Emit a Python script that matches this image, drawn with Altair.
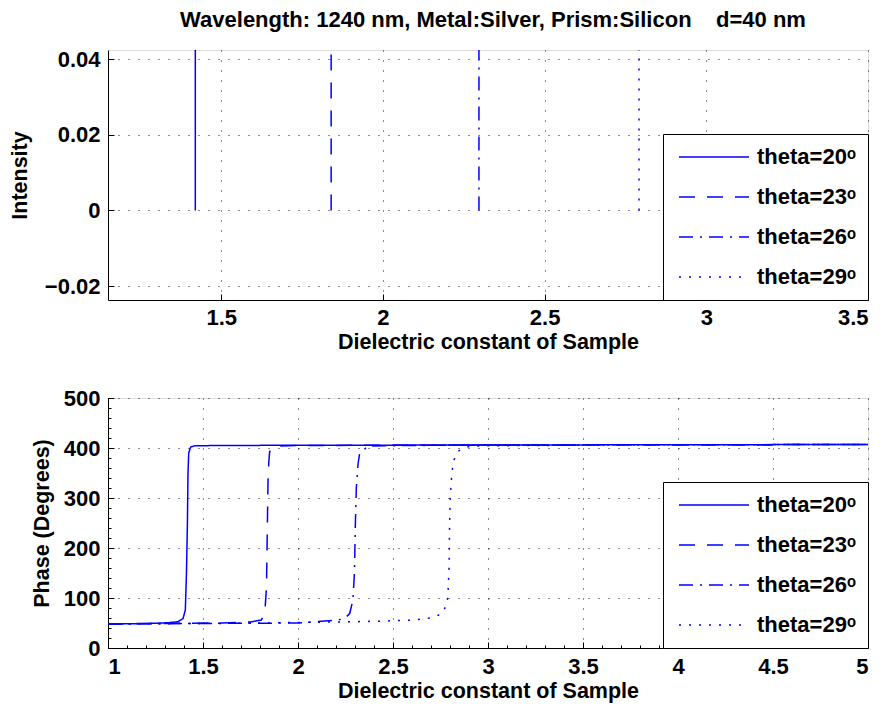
import altair as alt
import pandas as pd

BLUE = "#0000ff"
FONT = "Liberation Sans"

labels = ["theta=20ᵒ", "theta=23ᵒ", "theta=26ᵒ", "theta=29ᵒ"]
dashes = [[1, 0], [16, 12], [14, 7, 2, 7], [2, 8]]

# Top panel: resonance positions (intensity spikes, clipped at the top)
peak_x = [1.420, 1.840, 2.297, 2.792]
peak_low = [0.0, 0.0, 0.0, 0.0]
peak_high = [0.05, 0.05, 0.05, 0.05]

# Bottom panel: phase curves
x20 = [1.0, 1.2, 1.316, 1.368, 1.395, 1.407, 1.413, 1.418, 1.421, 1.425, 1.435, 1.456, 1.6, 2.0, 3.0, 4.0, 5.0]
y20 = [48, 49, 50.5, 52.5, 59, 76, 150, 250, 350, 390, 402, 404.5, 405, 405.5, 406, 406.5, 407]
x23 = [1.0, 1.3, 1.6, 1.75, 1.807, 1.825, 1.834, 1.839, 1.842, 1.846, 1.851, 1.877, 2.0, 2.5, 3.0, 4.0, 5.0]
y23 = [48, 49, 50, 52, 56, 70, 120, 250, 330, 370, 393, 404, 405, 405.5, 406, 406.5, 407]
x26 = [1.0, 1.5, 2.0, 2.211, 2.246, 2.272, 2.289, 2.297, 2.302, 2.307, 2.316, 2.324, 2.368, 2.6, 3.0, 4.0, 5.0]
y26 = [48, 49, 50, 56, 59, 69, 96, 150, 250, 320, 368, 388, 404, 405, 406, 406.5, 407]
x29 = [1.0, 1.8, 2.298, 2.465, 2.614, 2.711, 2.758, 2.784, 2.789, 2.795, 2.798, 2.801, 2.807, 2.812, 2.821, 2.842, 2.86, 2.91, 3.2, 4.0, 5.0]
y29 = [48, 50, 52.6, 54, 56, 61, 69, 88, 106, 160, 250, 300, 336, 356, 376, 393, 398, 404, 405, 406.5, 407]

# Axis tick values
top_x_ticks = [1.5, 2.0, 2.5, 3.0, 3.5]
top_y_ticks = [-0.02, 0.0, 0.02, 0.04]
bot_x_ticks = [1.0, 1.5, 2.0, 2.5, 3.0, 3.5, 4.0, 4.5, 5.0]
bot_y_ticks = [0, 100, 200, 300, 400, 500]
bot_x_minor = [round(1.0 + 0.1 * i, 1) for i in range(41)]
bot_y_minor = list(range(0, 501, 20))

TITLE = "Wavelength: 1240 nm, Metal:Silver, Prism:Silicon\u00a0\u00a0\u00a0\u00a0d=40 nm"

top_df = pd.DataFrame({"series": labels, "x": peak_x, "y0": peak_low, "y1": peak_high})

rows = []
for lab, xs, ys in zip(labels, [x20, x23, x26, x29], [y20, y23, y26, y29]):
    for xv, yv in zip(xs, ys):
        rows.append({"series": lab, "x": xv, "y": yv})
bot_df = pd.DataFrame(rows)

W, H = 760, 250

num_expr = "datum.value < 0 ? '\u2212' + toString(-datum.value) : toString(datum.value)"

axis_common = dict(
    labelFont=FONT, labelFontSize=22, labelFontWeight="bold", labelColor="black",
    titleFont=FONT, titleFontSize=21.5, titleFontWeight="bold", titleColor="black",
    domainColor="black", domainWidth=1, ticks=False,
    grid=True, gridColor="black", gridDash=[1, 9], gridWidth=1, gridOpacity=0.9,
    labelExpr=num_expr,
)

legend = alt.Legend(
    title=None, orient="bottom-right", offset=0,
    strokeColor="black", fillColor="white", padding=12,
    symbolType="M-3.5,0H3.5", symbolSize=400, symbolOffset=28,
    symbolStrokeWidth=1.5, symbolStrokeColor=BLUE,
    labelOffset=32, labelFont=FONT, labelFontSize=22, labelFontWeight="bold",
    labelColor="black", rowPadding=18, labelLimit=300,
)

dash_scale = alt.Scale(domain=labels, range=dashes)

top_xs = alt.Scale(domain=[1.15, 3.5], nice=False, zero=False)
top_ys = alt.Scale(domain=[-0.0237, 0.0425], nice=False, zero=False)

top_main = alt.Chart(top_df).mark_rule(color=BLUE, strokeWidth=1.5, clip=True).encode(
    x=alt.X("x:Q", scale=top_xs, title="Dielectric constant of Sample",
            axis=alt.Axis(values=top_x_ticks, labelPadding=7, titlePadding=3, **axis_common)),
    y=alt.Y("y0:Q", scale=top_ys, title="Intensity",
            axis=alt.Axis(values=top_y_ticks, labelPadding=8, titlePadding=13, **axis_common)),
    y2="y1:Q",
    strokeDash=alt.StrokeDash("series:N", scale=dash_scale, legend=legend),
)

tick_common = dict(labels=False, domain=False, grid=False, ticks=True, tickColor="black", tickWidth=1)

top_ticks = alt.Chart(top_df).mark_point(opacity=0).encode(
    x=alt.X("x:Q", scale=top_xs, title=None,
            axis=alt.Axis(orient="bottom", values=top_x_ticks, offset=-6, tickSize=6, **tick_common)),
    y=alt.Y("y0:Q", scale=top_ys, title=None,
            axis=alt.Axis(orient="left", values=top_y_ticks, offset=-6, tickSize=6, **tick_common)),
)

top = alt.layer(top_main, top_ticks).resolve_axis(x="independent", y="independent").properties(
    width=W, height=H,
    title=alt.Title(TITLE, font=FONT, fontSize=22, fontWeight="bold", color="black", offset=16, dx=5),
)

bot_xs = alt.Scale(domain=[1, 5], nice=False, zero=False)
bot_ys = alt.Scale(domain=[0, 500], nice=False)

bot_main = alt.Chart(bot_df).mark_line(color=BLUE, strokeWidth=1.5, clip=True).encode(
    x=alt.X("x:Q", scale=bot_xs, title="Dielectric constant of Sample",
            axis=alt.Axis(values=bot_x_ticks, labelPadding=8, titlePadding=3, **axis_common)),
    y=alt.Y("y:Q", scale=bot_ys, title="Phase (Degrees)",
            axis=alt.Axis(values=bot_y_ticks, labelPadding=8, titlePadding=10, **axis_common)),
    strokeDash=alt.StrokeDash("series:N", scale=dash_scale, legend=legend),
    detail="series:N",
)

bot_ticks = alt.Chart(bot_df).mark_point(opacity=0).encode(
    x=alt.X("x:Q", scale=bot_xs, title=None,
            axis=alt.Axis(orient="bottom", values=bot_x_ticks, offset=-6, tickSize=6, **tick_common)),
    y=alt.Y("y:Q", scale=bot_ys, title=None,
            axis=alt.Axis(orient="left", values=bot_y_ticks, offset=-6, tickSize=6, **tick_common)),
)

bot_minor = alt.Chart(bot_df).mark_point(opacity=0).encode(
    x=alt.X("x:Q", scale=bot_xs, title=None,
            axis=alt.Axis(orient="bottom", values=bot_x_minor, offset=-3, tickSize=3, **tick_common)),
    y=alt.Y("y:Q", scale=bot_ys, title=None,
            axis=alt.Axis(orient="left", values=bot_y_minor, offset=-3, tickSize=3, **tick_common)),
)

bot = alt.layer(bot_main, bot_ticks, bot_minor).resolve_axis(x="independent", y="independent").properties(
    width=W, height=H,
)

chart = alt.vconcat(top, bot, spacing=98, bounds="flush").resolve_scale(strokeDash="independent").properties(
    padding={"left": 0, "top": 0, "right": 0, "bottom": 2},
).configure_view(stroke="transparent").configure(background="white")

chart.save("out.html", embed_options={"renderer": "svg", "actions": False})
